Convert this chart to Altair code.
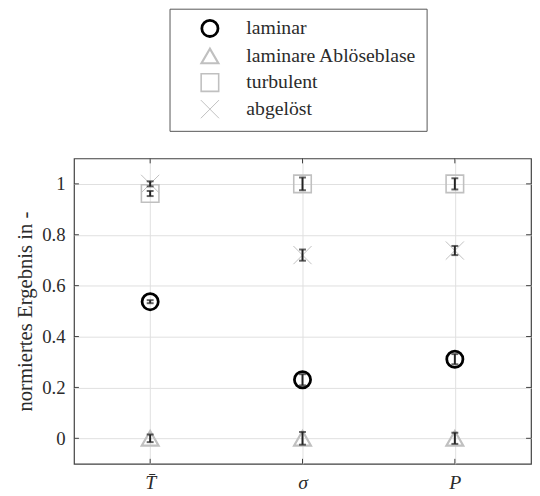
import altair as alt
import pandas as pd

# ---- data ----
categories = ["T\u0304", "\u03c3", "P"]
series = ["laminar", "laminare Ablöseblase", "turbulent", "abgelöst"]

laminar_mean = [0.537, 0.230, 0.311]
laminar_err = [0.006, 0.022, 0.020]
blase_mean = [0.0, 0.0, 0.0]
blase_err = [0.015, 0.025, 0.022]
turb_mean = [0.962, 1.0, 1.0]
turb_err = [0.010, 0.025, 0.022]
abgel_mean = [1.0, 0.720, 0.738]
abgel_err = [0.010, 0.022, 0.018]

y_ticks = [0, 0.2, 0.4, 0.6, 0.8, 1]

rows = []
for s, means, errs in zip(series,
                          [laminar_mean, blase_mean, turb_mean, abgel_mean],
                          [laminar_err, blase_err, turb_err, abgel_err]):
    for c, m, e in zip(categories, means, errs):
        rows.append({"cat": c, "series": s, "value": m, "lo": m - e, "hi": m + e})
df = pd.DataFrame(rows)
ytick_df = pd.DataFrame({"value": y_ticks})
xtick_df = pd.DataFrame({"cat": categories})

W, H = 464, 310
FONT = "Liberation Serif"
TXT = "#2b2b2b"
X_PATH = "M-1,-1L1,1M-1,1L1,-1"

x_scale = alt.Scale(type="point", padding=0.5)
x_axis = alt.Axis(title=None, labelAngle=0, labelFontStyle="italic", labelPadding=9,
                  labelFontSize=20)
y_scale = alt.Scale(domain=[-0.1, 1.1], nice=False, zero=False)
y_axis = alt.Axis(title="normiertes Ergebnis in -", values=y_ticks, format="~g",
                  labelPadding=9, titlePadding=6, titleFontSize=21)

X = lambda: alt.X("cat:N", sort=categories, scale=x_scale, axis=x_axis)
Y = lambda f: alt.Y(f, scale=y_scale, axis=y_axis)

leg = alt.Legend(title=None)
points = alt.Chart(df).mark_point(filled=False, opacity=1).encode(
    x=X(),
    y=Y("value:Q"),
    shape=alt.Shape("series:N", legend=leg,
                    scale=alt.Scale(domain=series, range=["circle", "triangle-up", "square", X_PATH])),
    stroke=alt.Stroke("series:N", legend=leg,
                      scale=alt.Scale(domain=series, range=["#000000", "#c0c0c0", "#c0c0c0", "#c0c0c0"])),
    strokeWidth=alt.StrokeWidth("series:N", legend=leg,
                                scale=alt.Scale(domain=series, range=[2.8, 1, 1, 1])),
    size=alt.Size("series:N", legend=leg,
                  scale=alt.Scale(domain=series, range=[270, 340, 170, 140])),
)

errorbars = alt.Chart(df).mark_errorbar(
    color="#222222", thickness=2, ticks={"size": 7, "thickness": 2, "color": "#222222"}
).encode(x=X(), y=Y("lo:Q"), y2="hi:Q")

tick_col = "#404040"
left_ticks = alt.Chart(ytick_df).mark_rule(color=tick_col, strokeWidth=1).encode(
    y=Y("value:Q"), x=alt.value(0), x2=alt.value(5))
right_ticks = alt.Chart(ytick_df).mark_rule(color=tick_col, strokeWidth=1).encode(
    y=Y("value:Q"), x=alt.value(W - 5), x2=alt.value(W))
bottom_ticks = alt.Chart(xtick_df).mark_rule(color=tick_col, strokeWidth=1).encode(
    x=X(), y=alt.value(H - 5), y2=alt.value(H))
top_ticks = alt.Chart(xtick_df).mark_rule(color=tick_col, strokeWidth=1).encode(
    x=X(), y=alt.value(0), y2=alt.value(5))

chart = alt.layer(left_ticks, right_ticks, bottom_ticks, top_ticks, points, errorbars).properties(
    width=W, height=H,
    autosize=alt.AutoSizeParams(type="none"),
    padding={"left": 67, "top": 149, "right": 1, "bottom": 28},
).configure_view(
    stroke="#404040", strokeWidth=1.2
).configure_axis(
    labelFont=FONT, labelFontSize=19, labelColor=TXT,
    titleFont=FONT, titleFontWeight="normal", titleColor=TXT,
    ticks=False, domain=False, grid=True, gridColor="#e0e0e0", gridWidth=1,
).configure_legend(
    orient="none", legendX=97, legendY=-152,
    padding=10, strokeColor="#555555", fillColor="white",
    labelFont=FONT, labelFontSize=20, labelColor=TXT, labelLimit=400,
    symbolOffset=21, labelOffset=27, rowPadding=2,
)

chart.save("out.html", embed_options={"renderer": "svg", "actions": False})
